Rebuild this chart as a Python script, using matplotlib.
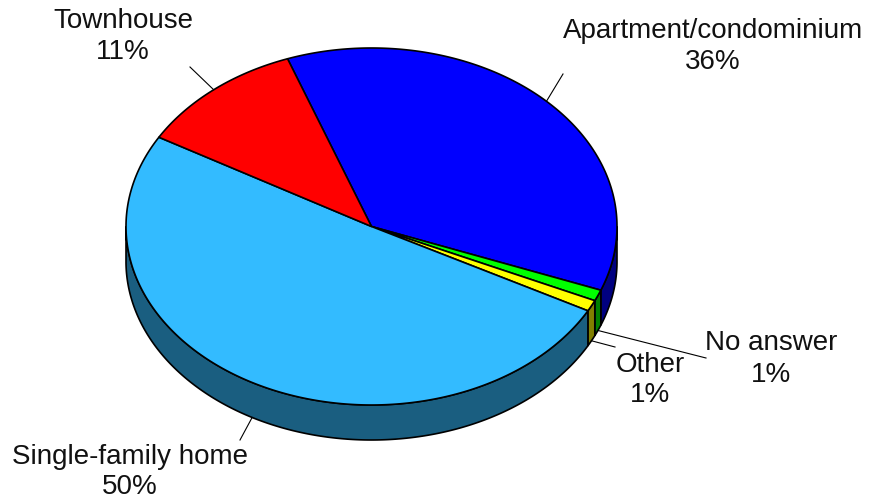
import numpy as np
import matplotlib.pyplot as plt
from matplotlib.patches import Polygon

plt.rcParams['font.family'] = ['Liberation Sans', 'DejaVu Sans']

# survey answers, drawn clockwise from the top-left
labels = ["Apartment/condominium", "No answer", "Other", "Single-family home", "Townhouse"]
shares = [36, 1, 1, 50, 11]
top_colors = ["#0000FF", "#00FF00", "#FFFF00", "#33BBFF", "#FF0000"]
side_colors = ["#000080", "#008000", "#808000", "#1A5E80", "#800000"]

# where each label block sits and where its leader line ends
label_pos = [(713, 46), (771, 359), (650, 380), (130, 472), (123, 36)]
leader_end = [(563, 74), (706, 358), (615, 347), (240, 440), (190, 67)]

W, H = 869, 501
cx, cy = 371.5, 226.5
rx, ry = 245.5, 178.5
depth = 35
start = 110.0

fig = plt.figure(figsize=(W / 100, H / 100), dpi=100)
ax = fig.add_axes([0, 0, 1, 1])
ax.set_xlim(0, W)
ax.set_ylim(H, 0)
ax.axis("off")


def pt(t, dz=0.0):
    r = np.radians(t)
    return cx + rx * np.cos(r), cy - ry * np.sin(r) + dz


def arc(a, b, dz=0.0, n=None):
    if n is None:
        n = max(3, int(abs(a - b) * 2))
    ts = np.linspace(a, b, n)
    x, y = pt(ts, dz)
    return np.column_stack([x, y])


fr = np.array(shares, dtype=float) / sum(shares) * 360.0
ends = start - np.cumsum(fr)
starts = ends + fr

# side walls (front half of the cylinder only)
for a0, a1, sc in zip(starts, ends, side_colors):
    for k in range(-2, 3):
        lo, hi = -180 + 360 * k, 360 * k
        s, e = min(a0, hi), max(a1, lo)
        if s <= e:
            continue
        top = arc(s, e)
        bot = arc(e, s, depth)
        ax.add_patch(Polygon(np.vstack([top, bot]), closed=True, facecolor=sc,
                             edgecolor="black", linewidth=1.2, zorder=1))

# top faces
for a0, a1, tc in zip(starts, ends, top_colors):
    poly = np.vstack([[cx, cy], arc(a0, a1)])
    ax.add_patch(Polygon(poly, closed=True, facecolor=tc, edgecolor="black",
                         linewidth=1.2, joinstyle="round", zorder=2))

# labels with leader lines
for a0, a1, lab, val, (tx, ty), (lx, ly) in zip(starts, ends, labels, shares,
                                              label_pos, leader_end):
    mid = (a0 + a1) / 2
    dz = depth if np.sin(np.radians(mid)) < 0 else 0
    ax_, ay_ = pt(mid, dz)
    ax.plot([ax_, lx], [ay_, ly], color="black", linewidth=0.8, zorder=3)
    ax.text(tx, ty, f"{lab}\n{val}%", ha="center", va="center",
            fontsize=20, color="#111111", linespacing=1.25, zorder=4)

fig.savefig("out.png", dpi=100)
